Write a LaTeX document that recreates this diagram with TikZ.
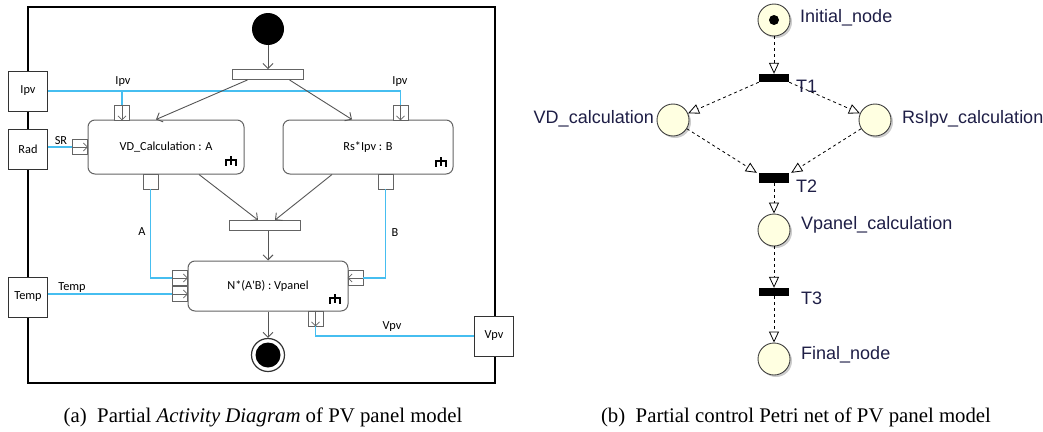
\documentclass[tikz,border=0pt]{standalone}
\usepackage{fontspec}
\setmainfont{Liberation Serif}
\newfontfamily\umlfont{Carlito}
\newfontfamily\netfont{Liberation Sans}
\usetikzlibrary{arrows.meta, positioning, shadows}

\definecolor{flowblue}{RGB}{70,190,240}
\definecolor{actgray}{RGB}{100,100,100}
\definecolor{edgegray}{RGB}{85,85,85}
\definecolor{placefill}{RGB}{255,255,225}
\definecolor{netink}{RGB}{30,30,70}

\tikzset{
  activity/.style={draw=actgray, line width=1pt, rounded corners=7pt, fill=white, inner sep=0pt},
  pinbox/.style={draw=actgray, fill=white, line width=0.9pt, minimum width=15pt, minimum height=15pt, inner sep=0pt},
  param/.style={draw=black!80, fill=white, line width=0.9pt, minimum width=39pt, minimum height=40pt, inner sep=0pt},
  syncbar/.style={draw=actgray, fill=white, line width=0.9pt, minimum width=71pt, minimum height=10pt, inner sep=0pt},
  ctrl/.style={draw=edgegray, line width=0.9pt, -{Straight Barb[length=5pt, width=10pt]}},
  flow/.style={draw=flowblue, line width=1.3pt},
  pinarrow/.style={draw=actgray, line width=0.8pt, -{Straight Barb[length=4pt, width=8pt]}},
  netplace/.style={circle, draw=black!75, fill=placefill, line width=0.9pt, minimum size=32pt, inner sep=0pt,
    drop shadow={shadow xshift=2pt, shadow yshift=-2pt, fill=black!40}},
  netbar/.style={fill=black, minimum width=30pt, minimum height=8pt, inner sep=0pt},
  netarc/.style={draw=black, line width=0.8pt, dash pattern=on 3pt off 3pt,
    -{Triangle[open, length=11pt, width=10pt, line width=0.8pt]}},
  netlabel/.style={font=\netfont\fontsize{18}{20}\selectfont, text=netink, inner sep=0pt},
  caption/.style={font=\fontsize{20.8}{24}\selectfont, anchor=base, inner sep=0pt},
  rake/.pic={\draw[line width=1.6pt] (0,-5) -- (0,4) (-5,4.5) -- (-5,-1) -- (5,-1) -- (5,4.5);}
}

\begin{document}
\begin{tikzpicture}[x=1pt, y=-1pt, font=\umlfont\fontsize{12.3}{14}\selectfont]
  \useasboundingbox (0,0) rectangle (1043,431);

  % (a) activity diagram
  \draw[line width=2pt] (28,7) rectangle (495,383);

  \node[circle, fill=black, minimum size=32pt, inner sep=0pt] (start) at (268,29) {};
  \node[syncbar] (fork) at (267.5,74.5) {};
  \node[syncbar] (join) at (265,225.5) {};

  \node[activity, minimum width=156pt, minimum height=54pt] (vd) at (166,147) {VD\_Calculation : A};
  \node[activity, minimum width=170pt, minimum height=54pt] (rs) at (368,147) {Rs*Ipv : B};
  \node[activity, minimum width=160pt, minimum height=50pt] (np) at (268,286) {N*(A'B) : Vpanel};
  \pic at (231,161) {rake};
  \pic at (441,162) {rake};
  \pic at (335,299) {rake};

  \node[circle, draw=black!80, line width=1.2pt, fill=white, minimum size=33pt, inner sep=0pt] (stop) at (268,355) {};
  \fill (stop) circle (12.5);

  \node[param] (ipv) at (28,91) {Ipv};
  \node[param] (rad) at (28,149) {Rad};
  \node[param] (temp) at (28,297) {Temp};
  \node[param] (vpv) at (494,336) {Vpv};

  % pins
  \node[pinbox] (vdIpv) at (122,112.5) {};
  \node[pinbox] (rsIpv) at (400.5,112.5) {};
  \node[pinbox] (vdSR) at (80,147) {};
  \node[pinbox] (vdOut) at (150.5,181.5) {};
  \node[pinbox] (rsOut) at (385.5,181.5) {};
  \node[pinbox] (npA) at (180,278) {};
  \node[pinbox] (npT) at (180,294) {};
  \node[pinbox] (npB) at (355.5,278) {};
  \node[pinbox] (npOut) at (315.5,318.5) {};
  \foreach \p/\a/\b in {vdIpv/north/south, rsIpv/north/south, vdSR/west/east,
      npA/west/east, npT/west/east, npB/east/west, npOut/north/south}
    \draw[pinarrow] (\p.\a) -- (\p.\b);

  % object flows
  \draw[flow] (ipv.east) -| (rsIpv.north);
  \draw[flow] (vdIpv.north |- ipv.east) -- (vdIpv.north);
  \draw[flow] (rad.east |- vdSR) -- (vdSR.west);
  \draw[flow] (vdOut.south) |- (npA.west);
  \draw[flow] (rsOut.south) |- (npB.east);
  \draw[flow] (temp.east |- npT) -- (npT.west);
  \draw[flow] (npOut.south) |- (vpv.west);

  \node (lIpvA) at (123,82) {Ipv};
  \node (lIpvB) at (400,82) {Ipv};
  \node (lSR) at (61,141) {SR};
  \node (lA) at (142,232) {A};
  \node (lB) at (395,233) {B};
  \node (lTemp) at (72,288) {Temp};
  \node (lVpv) at (392,327) {Vpv};

  % control flows
  \draw[ctrl] (start.south) -- (fork.north -| start);
  \draw[ctrl] ([xshift=-20pt]fork.south) -- ([xshift=-10pt]vd.north);
  \draw[ctrl] ([xshift=22pt]fork.south) -- ([xshift=-16pt]rs.north);
  \draw[ctrl] ([xshift=33pt]vd.south) -- ([xshift=-7pt]join.north);
  \draw[ctrl] ([xshift=-36pt]rs.south) -- ([xshift=10pt]join.north);
  \draw[ctrl] (join.south -| np) -- (np.north);
  \draw[ctrl] (np.south) -- (stop.north);

  % (b) control Petri net
  \node[netplace] (pInit) at (774,20) {};
  \fill (pInit) circle (5);
  \node[netplace] (pVD) at (673,120) {};
  \node[netplace] (pRs) at (875,120) {};
  \node[netplace] (pVp) at (774,230) {};
  \node[netplace] (pFin) at (774,359) {};
  \node[netbar] (t1) at (774,78) {};
  \node[netbar, minimum height=10pt] (t2) at (774,178) {};
  \node[netbar] (t3) at (774,292) {};

  \draw[netarc] (pInit) -- (t1.north);
  \draw[netarc] (t1.south west) -- (pVD);
  \draw[netarc] (t1.south east) -- (pRs);
  \draw[netarc] (pVD) -- ([xshift=-2pt]t2.north west);
  \draw[netarc] (pRs) -- ([xshift=2pt]t2.north east);
  \draw[netarc] (t2.south) -- (pVp);
  \draw[netarc] (pVp) -- (t3.north);
  \draw[netarc] (t3.south) -- (pFin);

  \node[netlabel, anchor=west] (lInit) at (800,18) {Initial\_node};
  \node[netlabel, anchor=west] (lT1) at (796,86) {T1};
  \node[netlabel, anchor=east] (lVD) at (654,119) {VD\_calculation};
  \node[netlabel, anchor=west] (lRs) at (902,119) {RsIpv\_calculation};
  \node[netlabel, anchor=west] (lT2) at (796,186) {T2};
  \node[netlabel, anchor=west] (lVp) at (801,225) {Vpanel\_calculation};
  \node[netlabel, anchor=west] (lT3) at (801,298) {T3};
  \node[netlabel, anchor=west] (lFin) at (801,355) {Final\_node};

  % captions
  \node[caption] (capA) at (263,422) {(a)\enspace Partial \textit{Activity Diagram} of PV panel model};
  \node[caption] (capB) at (796,422) {(b)\enspace Partial control Petri net of PV panel model};
\end{tikzpicture}
\end{document}
